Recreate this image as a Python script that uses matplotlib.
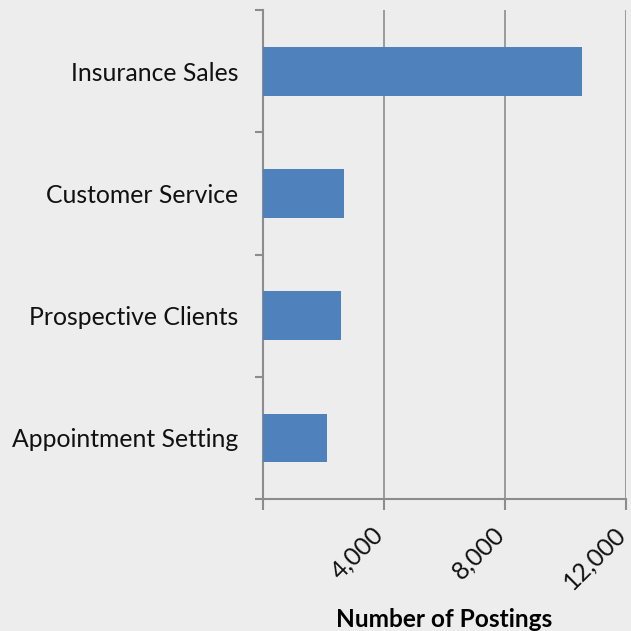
import numpy as np
import matplotlib.pyplot as plt
import matplotlib.transforms as mtransforms
from matplotlib.ticker import FuncFormatter

categories = ['Insurance Sales', 'Customer Service', 'Prospective Clients', 'Appointment Setting']
postings = [10550, 2680, 2580, 2110]
xticks = [0, 4000, 8000, 12000]

plt.rcParams['font.family'] = ['Lato', 'DejaVu Sans']

bg = '#ededed'
fig = plt.figure(figsize=(6.31, 6.31), dpi=100, facecolor=bg)
ax = fig.add_axes([0.4168, 0.209, 0.5752, 0.775], facecolor=bg)

y = np.arange(len(categories))[::-1]
ax.barh(y, postings, height=0.4, color='#4f81bd', zorder=3)

ax.set_xlim(0, 12000)
ax.set_ylim(-0.5, len(categories) - 0.5)
ax.set_xticks(xticks)
ax.xaxis.set_major_formatter(FuncFormatter(lambda v, p: '' if v == 0 else f'{int(v):,}'))
ax.grid(axis='x', color='#8c8c8c', linewidth=1.2, zorder=0)

ax.set_yticks(y)
ax.set_yticklabels(categories)
ax.set_yticks(np.arange(len(categories) + 1) - 0.5, minor=True)
ax.tick_params(axis='y', which='major', length=0, pad=18, labelsize=17.8, colors='#111111')
ax.tick_params(axis='y', which='minor', length=6, width=1.5, color='#8c8c8c')
ax.tick_params(axis='x', length=8, width=1.5, color='#8c8c8c', pad=9, labelsize=17.8, labelcolor='#111111')
shift = mtransforms.ScaledTranslation(4 / 100, 0, fig.dpi_scale_trans)
for lbl in ax.get_xticklabels():
    lbl.set_rotation(45)
    lbl.set_ha('right')
    lbl.set_transform(lbl.get_transform() + shift)

for s in ['top', 'right']:
    ax.spines[s].set_visible(False)
for s in ['left', 'bottom']:
    ax.spines[s].set_color('#8c8c8c')
    ax.spines[s].set_linewidth(1.5)

ax.set_xlabel('Number of Postings', fontsize=17.6, fontweight='bold')
ax.xaxis.set_label_coords(0.5, -0.222)

fig.savefig('out.png', dpi=100, facecolor=bg)
